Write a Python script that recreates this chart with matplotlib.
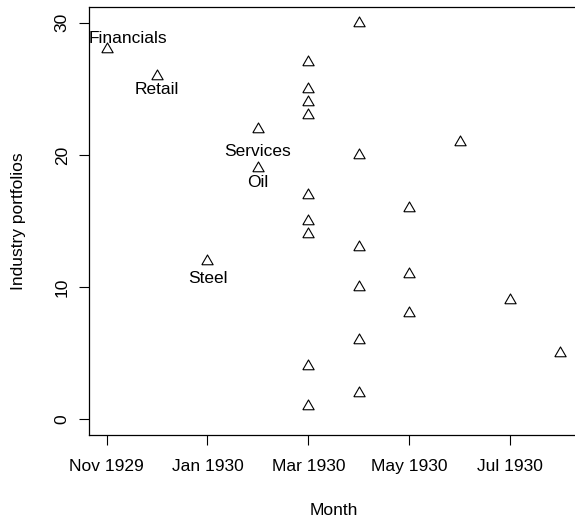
import matplotlib
matplotlib.use("Agg")
import matplotlib.pyplot as plt
from matplotlib.ticker import FixedLocator, FuncFormatter

# ---- data ----
point_months = ["1929-11", "1929-12", "1930-01", "1930-02", "1930-02",
                "1930-03", "1930-03", "1930-03", "1930-03", "1930-03",
                "1930-03", "1930-03", "1930-03", "1930-03",
                "1930-04", "1930-04", "1930-04", "1930-04", "1930-04", "1930-04",
                "1930-05", "1930-05", "1930-05",
                "1930-06", "1930-07", "1930-08"]
point_values = [28, 26, 12, 22, 19,
                27, 25, 24, 23, 17, 15, 14, 4, 1,
                30, 20, 13, 10, 6, 2,
                16, 11, 8,
                21, 9, 5]
point_labels = ["Financials", "Retail", "Steel", "Services", "Oil"] + [""] * 21
x_tick_months = ["1929-11", "1930-01", "1930-03", "1930-05", "1930-07"]
y_ticks = [0, 10, 20, 30]
x_label = "Month"
y_label = "Industry portfolios"

# label placement (offset of the label baseline from the marker, in points)
label_offsets = {"Financials": (15, 4.5), "Retail": (0, -13.5),
                 "Steel": (0, -16), "Services": (0, -19.5), "Oil": (0, -13.5)}

MONTH_NAMES = ["Jan", "Feb", "Mar", "Apr", "May", "Jun",
               "Jul", "Aug", "Sep", "Oct", "Nov", "Dec"]


def yearmon(s):
    y, m = s.split("-")
    return int(y) + (int(m) - 1) / 12.0


def fmt_yearmon(v, pos=None):
    k = int(round(v * 12))
    return f"{MONTH_NAMES[k % 12]} {k // 12}"


plt.rcParams["font.family"] = ["Liberation Sans", "DejaVu Sans"]
FS = 12.5

xnum = [yearmon(m) for m in point_months]

fig = plt.figure(figsize=(5.75, 5.22), dpi=100)
ax = fig.add_axes([88.5 / 575, 87 / 522, 490 / 575, 428 / 522])

tri = [(-1, -0.577), (1, -0.577), (0, 1.155), (-1, -0.577)]
ax.plot(xnum, point_values, linestyle="none", marker=tri, markersize=9.4,
        markerfacecolor="none", markeredgecolor="black", markeredgewidth=0.8)

for x, y, lab in zip(xnum, point_values, point_labels):
    if lab:
        dx, dy = label_offsets[lab]
        ax.annotate(lab, (x, y), xytext=(dx, dy), textcoords="offset points",
                    ha="center", va="baseline", fontsize=FS, color="black")

xmin, xmax = min(xnum), max(xnum)
span = xmax - xmin
ax.set_xlim(xmin - 0.04 * span, xmax + 0.04 * span)
ax.set_ylim(-1.2, 31.2)

ax.xaxis.set_major_locator(FixedLocator([yearmon(m) for m in x_tick_months]))
ax.xaxis.set_major_formatter(FuncFormatter(fmt_yearmon))
ax.set_yticks(y_ticks)
ax.set_yticklabels([str(v) for v in y_ticks], rotation=90, va="center")

ax.tick_params(axis="both", direction="out", length=7.5, width=0.8,
               labelsize=FS, colors="black")
ax.tick_params(axis="x", pad=9.5)
ax.tick_params(axis="y", pad=6)
for s in ax.spines.values():
    s.set_linewidth(0.9)
    s.set_color("black")

ax.set_xlabel(x_label, fontsize=FS, labelpad=21)
ax.set_ylabel(y_label, fontsize=FS, labelpad=21)

fig.savefig("out.png", dpi=100)
